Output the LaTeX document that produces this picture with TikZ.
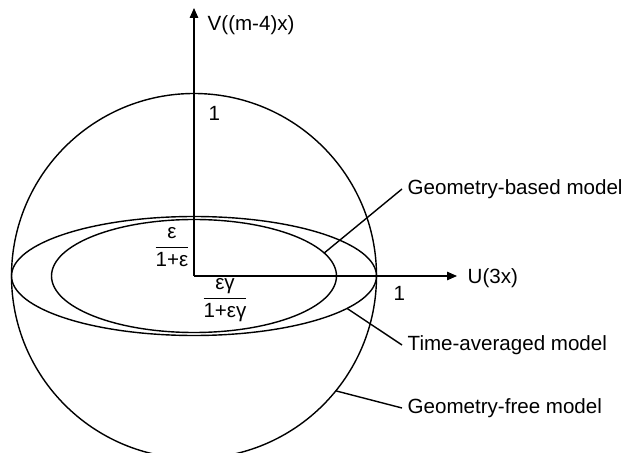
\documentclass[tikz,border=0pt]{standalone}
\usepackage{fontspec}
\setmainfont{Liberation Sans}
\usetikzlibrary{arrows.meta}

\begin{document}
\begin{tikzpicture}[font=\fontsize{11.7}{14}\selectfont,line width=.8pt,
  axis/.style={-{Triangle[length=2mm,width=1.7mm]}},
  modellabel/.style={anchor=west,inner sep=.1cm}]
\clip (-3.88,-3.52) rectangle (8.80,5.52);
\coordinate (O) at (0,0);
% regions
\draw (O) circle (3.65);
\draw (O) ellipse (3.65 and 1.19);
\draw (O) ellipse (2.85 and 1.13);
% axes
\draw[axis] (O) -- (0,5.36) coordinate (vtip);
\draw[axis] (O) -- (5.26,0) coordinate (utip);
\node[anchor=west,inner sep=0] (vname) at (0.26,5.02) {V((m-4)x)};
\node[anchor=west,inner sep=0] (uname) at (5.46,-0.04) {U(3x)};
\node[anchor=west,inner sep=0] (vone) at (0.28,3.26) {1};
\node[anchor=west,inner sep=0] (uone) at (3.98,-0.34) {1};
\node (vfrac) at (-0.44,0.58) {$\displaystyle\frac{\mbox{ε}}{\mbox{1+ε}}$};
\node (ufrac) at (0.62,-0.48) {$\displaystyle\frac{\mbox{εγ}}{\mbox{1+εγ}}$};
% labels
\node[modellabel] (geobased) at (4.16,1.74) {Geometry-based model};
\node[modellabel] (timeavg) at (4.16,-1.38) {Time-averaged model};
\node[modellabel] (geofree) at (4.16,-2.64) {Geometry-free model};
\coordinate (pinner) at (24:2.85 and 1.13);
\coordinate (pouter) at (-33:3.65 and 1.19);
\coordinate (pcircle) at (-39:3.65);
\draw (pinner) -- (geobased.west);
\draw (pouter) -- (timeavg.west);
\draw (pcircle) -- (geofree.west);
\end{tikzpicture}
\end{document}
